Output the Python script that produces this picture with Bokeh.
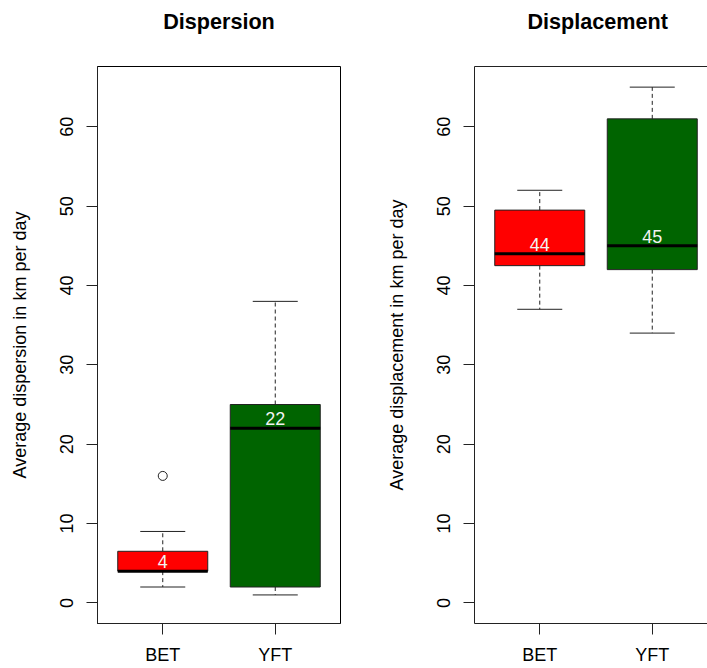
from bokeh.plotting import figure
from bokeh.layouts import row
from bokeh.models import Range1d, FixedTicker, LinearAxis, ColumnDataSource
from bokeh.core.properties import value
from bokeh.embed import file_html
from bokeh.resources import INLINE

# ---------------- data ----------------
species = ["BET", "YFT"]
positions = [1, 2]
box_colors = ["#FF0000", "#006400"]

disp_lower = [2, 1]
disp_q1 = [4, 2]
disp_median = [4, 22]
disp_q3 = [6.5, 25]
disp_upper = [9, 38]
disp_outlier_pos = [1]
disp_outlier_val = [16]

displ_lower = [37, 34]
displ_q1 = [42.5, 42]
displ_median = [44, 45]
displ_q3 = [49.5, 61]
displ_upper = [52, 65]
displ_outlier_pos = []
displ_outlier_val = []

y_ticks = [0, 10, 20, 30, 40, 50, 60]

FONT = "Liberation Sans"
BOX_W = 0.8
CAP_W = 0.4


def make_panel(title, ylabel, lower, q1, med, q3, upper, out_x, out_y,
               width, x_end, mbr, full_outline):
    p = figure(width=width, height=668,
               x_range=Range1d(0.42, x_end), y_range=Range1d(-2.6, 67.6),
               output_backend="svg", toolbar_location=None,
               min_border_left=97, min_border_right=mbr,
               min_border_top=66, min_border_bottom=45,
               background_fill_color="white", border_fill_color="white")
    p.xgrid.visible = False
    p.ygrid.visible = False
    p.outline_line_color = "black" if full_outline else None
    p.outline_line_width = 1

    # axes
    for ax in (p.xaxis[0], p.yaxis[0]):
        ax.major_tick_out = 11
        ax.major_tick_in = 0
        ax.minor_tick_line_color = None
        ax.major_tick_line_color = "#222222"
        ax.axis_line_color = "#222222"
        ax.major_label_text_font = FONT
        ax.major_label_text_font_size = "18px"
        ax.major_label_text_color = "black"
    p.xaxis.ticker = FixedTicker(ticks=positions)
    p.xaxis.major_label_overrides = {pos: s for pos, s in zip(positions, species)}
    p.xaxis.major_label_standoff = 10
    p.yaxis.ticker = FixedTicker(ticks=y_ticks)
    p.yaxis.major_label_orientation = "vertical"
    p.yaxis.major_label_standoff = 13
    p.yaxis.axis_label = ylabel
    p.yaxis.axis_label_text_font = FONT
    p.yaxis.axis_label_text_font_size = "18px"
    p.yaxis.axis_label_text_font_style = "normal"
    p.yaxis.axis_label_text_color = "black"
    p.yaxis.axis_label_standoff = 28

    # top axis without visible ticks: top border (right panel) and spacer under the title
    top = LinearAxis(ticker=FixedTicker(ticks=positions[:1]), major_tick_line_color=None,
                     major_tick_out=23, major_tick_in=0,
                     minor_tick_line_color=None,
                     major_label_overrides={positions[0]: ""},
                     major_label_standoff=0,
                     major_label_text_font_size="1px",
                     major_label_text_color=None,
                     axis_line_color=None if full_outline else "#222222")
    p.add_layout(top, "above")

    # title
    p.title.text = title
    p.title.text_font = FONT
    p.title.text_font_size = "21.6px"
    p.title.text_font_style = "bold"
    p.title.text_color = "black"
    p.title.vertical_align = "top"
    p.title.standoff = 16

    xs = positions
    src = ColumnDataSource(dict(
        x=xs,
        lower=lower, q1=q1, med=med, q3=q3, upper=upper,
        color=box_colors,
        x_box0=[x - BOX_W / 2 for x in xs], x_box1=[x + BOX_W / 2 for x in xs],
        x_cap0=[x - CAP_W / 2 for x in xs], x_cap1=[x + CAP_W / 2 for x in xs],
        label=[str(int(m)) if float(m).is_integer() else str(m) for m in med],
    ))
    # boxes
    p.quad(left="x_box0", right="x_box1", bottom="q1", top="q3", source=src,
           fill_color="color", line_color="#222222", line_width=1)
    # whiskers
    p.segment(x0="x", y0="q3", x1="x", y1="upper", source=src,
              line_color="#222222", line_width=1, line_dash="4 3")
    p.segment(x0="x", y0="q1", x1="x", y1="lower", source=src,
              line_color="#222222", line_width=1, line_dash="4 3")
    # caps
    p.segment(x0="x_cap0", y0="upper", x1="x_cap1", y1="upper", source=src,
              line_color="#222222", line_width=1)
    p.segment(x0="x_cap0", y0="lower", x1="x_cap1", y1="lower", source=src,
              line_color="#222222", line_width=1)
    # medians
    p.segment(x0="x_box0", y0="med", x1="x_box1", y1="med", source=src,
              line_color="black", line_width=3)
    # outliers
    if len(out_x):
        p.scatter(x=out_x, y=out_y, marker="circle", size=9,
                  fill_color=None, line_color="#222222", line_width=1)
    # median labels
    p.text(x="x", y="med", text="label", source=src,
           text_align="center", text_baseline="bottom",
           text_color="#F2F2F2", text_font=value(FONT), text_font_size="18px",
           y_offset=-3)
    return p


left = make_panel("Dispersion", "Average dispersion in km per day",
                  disp_lower, disp_q1, disp_median, disp_q3, disp_upper,
                  disp_outlier_pos, disp_outlier_val,
                  width=377, x_end=2.58, mbr=37, full_outline=True)
left.title.align = "center"

right = make_panel("Displacement", "Average displacement in km per day",
                   displ_lower, displ_q1, displ_median, displ_q3, displ_upper,
                   displ_outlier_pos, displ_outlier_val,
                   width=330, x_end=0.42 + 233 / 112.5, mbr=0, full_outline=False)
right.title.align = "left"
right.title.offset = 53

layout = row(left, right, spacing=0)
open("out.html", "w").write(file_html(layout, INLINE))
